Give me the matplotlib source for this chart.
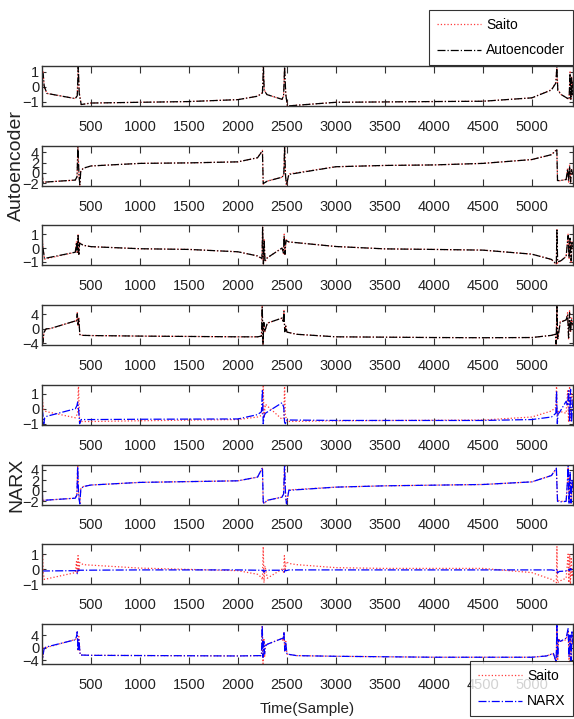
import matplotlib
matplotlib.use('Agg')
import matplotlib.pyplot as plt
from matplotlib.lines import Line2D

plt.rcParams['font.family'] = ['Liberation Sans', 'DejaVu Sans']

# sample positions (knots) and values
x1 = [0, 12, 22, 50, 340, 360, 370, 380, 400, 500, 1000, 1500, 2000, 2200, 2250, 2260, 2268, 2296,
      2450, 2466, 2476, 2488, 2505, 2600, 3000, 4000, 4500, 5000, 5200, 5245, 5255, 5265, 5300,
      5380, 5390, 5398, 5405, 5412, 5420]
saito1 = [0.75, 1.0, 0.0, -0.45, -0.8, -0.6, 1.4, -0.4, -1.2, -1.1, -1.05, -1.0, -0.87, -0.64, -0.4, 1.4,
          -0.2, -0.53, -0.85, -0.6, 1.4, -0.5, -1.3, -1.25, -1.05, -1.0, -0.98, -0.75, -0.2, 0.3, 1.4,
          -0.2, -0.53, -0.85, 1.0, -0.9, 0.7, -0.6, 0.4]
ae1 = [0.7, 0.9, 0.05, -0.45, -0.8, -0.6, 1.35, -0.45, -1.2, -1.1, -1.05, -1.0, -0.87, -0.64, -0.42, 1.35,
       -0.25, -0.53, -0.85, -0.62, 1.35, -0.5, -1.3, -1.25, -1.05, -1.0, -0.98, -0.75, -0.22, 0.25, 1.35,
       -0.25, -0.53, -0.85, 0.9, -0.85, 0.6, -0.55, 0.35]

x2 = [0, 10, 30, 340, 358, 366, 378, 386, 395, 420, 500, 1000, 1500, 2000, 2200, 2250, 2258, 2266, 2300,
      2450, 2468, 2476, 2486, 2495, 2520, 3000, 3500, 4000, 4500, 5000, 5200, 5255, 5262, 5290, 5350,
      5365, 5375, 5385, 5395, 5405, 5420]
saito2 = [0.3, -1.9, -1.8, -1.4, -0.8, 5.1, -0.5, -2.4, 0.3, 0.9, 1.35, 1.85, 1.95, 2.15, 2.95, 4.4, -2.2,
          -2.0, -1.6, -0.85, -0.3, 5.1, -0.5, -2.4, -0.2, 1.2, 1.45, 1.55, 1.85, 2.6, 3.55, 4.6, -1.6,
          -1.5, -1.3, 1.0, -1.8, 1.5, -2.0, 0.8, -0.5]
ae2 = [0.2, -1.85, -1.8, -1.4, -0.7, 5.0, -0.6, -2.3, 0.2, 0.9, 1.35, 1.85, 1.95, 2.15, 2.95, 4.3, -2.1,
       -2.0, -1.6, -0.85, -0.4, 5.0, -0.6, -2.3, -0.3, 1.2, 1.45, 1.55, 1.85, 2.6, 3.55, 4.5, -1.5,
       -1.5, -1.3, 0.8, -1.6, 1.3, -1.8, 0.6, -0.4]

x3 = [0, 8, 25, 340, 352, 360, 368, 376, 384, 420, 500, 1000, 1500, 2000, 2200, 2245, 2252, 2260, 2268,
      2276, 2300, 2450, 2465, 2472, 2480, 2490, 2520, 3000, 3500, 4000, 4500, 5000, 5200, 5250, 5256,
      5263, 5300, 5350, 5370, 5380, 5390, 5400, 5410, 5420]
saito3 = [1.1, 0.2, -0.8, -0.3, 0.5, -0.4, 0.95, -0.5, 0.4, 0.2, 0.1, -0.05, -0.1, -0.27, -0.57, -0.8,
          1.55, -1.2, 0.6, -1.0, -0.7, 0.0, -0.4, 1.0, -0.5, 0.6, 0.44, 0.11, -0.06, -0.1, -0.15, -0.44,
          -0.82, -1.2, 1.4, -1.1, -0.9, -0.6, 1.0, -0.8, 0.8, -1.0, 0.5, 0.0]
ae3 = [1.0, 0.1, -0.75, -0.3, 0.4, -0.35, 0.9, -0.45, 0.35, 0.2, 0.1, -0.05, -0.1, -0.27, -0.57, -0.75,
       1.5, -1.15, 0.5, -0.9, -0.7, 0.0, -0.35, 0.9, -0.45, 0.55, 0.44, 0.11, -0.06, -0.1, -0.15, -0.44,
       -0.82, -1.15, 1.3, -1.0, -0.9, -0.6, 0.9, -0.7, 0.7, -0.9, 0.4, 0.0]

x4 = [0, 8, 20, 40, 85, 340, 352, 360, 368, 376, 386, 420, 500, 1000, 2000, 2200, 2240, 2248, 2256, 2264,
      2272, 2300, 2450, 2462, 2470, 2478, 2488, 2500, 2600, 3000, 3500, 4000, 4500, 5000, 5200, 5240,
      5248, 5256, 5264, 5290, 5350, 5365, 5375, 5385, 5395, 5405, 5420]
saito4 = [1.0, -4.0, -1.0, 0.0, 0.1, 2.2, 2.0, 4.5, 1.0, 3.0, -1.7, -1.8, -1.85, -2.0, -2.2, -2.2, -2.0,
          6.5, -4.5, 2.0, -1.0, 1.6, 3.0, 2.0, 5.1, -1.0, 1.0, -0.9, -1.5, -2.2, -2.3, -2.4, -2.45, -2.4,
          -1.8, -1.5, -4.5, 6.5, -3.0, 2.0, 2.5, 4.5, -3.0, 5.0, -1.0, 3.0, 1.0]
ae4 = [0.8, -3.8, -1.0, 0.0, 0.1, 2.2, 2.0, 4.2, 1.2, 2.8, -1.6, -1.8, -1.85, -2.0, -2.2, -2.2, -2.0,
       6.2, -4.3, 1.8, -0.8, 1.6, 3.0, 2.1, 4.8, -0.8, 0.8, -0.9, -1.5, -2.2, -2.3, -2.4, -2.45, -2.4,
       -1.8, -1.5, -4.2, 6.2, -2.8, 1.8, 2.5, 4.0, -2.5, 4.5, -0.8, 2.5, 1.0]

x5 = [0, 8, 18, 28, 50, 340, 356, 364, 372, 384, 400, 500, 1000, 2000, 2200, 2240, 2250, 2258, 2266,
      2280, 2450, 2468, 2476, 2484, 2500, 3000, 4500, 5000, 5200, 5245, 5252, 5260, 5268, 5280, 5350,
      5365, 5375, 5385, 5395, 5405, 5420]
saito5 = [1.1, 0.4, -0.1, -0.15, -0.2, -0.6, -0.4, -0.2, 1.6, -0.85, -0.85, -0.85, -0.8, -0.72, -0.55,
          -0.45, -0.3, 1.6, -0.6, 0.3, -0.7, -0.6, 1.6, -0.4, -0.85, -0.8, -0.75, -0.55, -0.15, 0.1,
          1.6, -0.5, -0.2, -0.16, -0.3, 1.2, -0.9, 1.5, -0.8, 1.0, 0.5]
narx5 = [0.0, -0.3, -1.0, -0.6, -0.5, 0.0, 0.2, 0.45, 0.1, -1.0, -0.72, -0.72, -0.7, -0.68, -0.39,
         -0.2, 1.3, -1.0, -0.5, -0.3, 0.4, 0.1, -0.9, -1.0, -0.75, -0.78, -0.78, -0.72, -0.55, -0.3,
         1.2, -1.0, -0.3, -0.27, 0.5, 0.2, 1.2, -0.8, 1.3, -0.9, 0.6]

x6 = [0, 8, 22, 340, 356, 364, 374, 386, 396, 420, 500, 1000, 2000, 2200, 2250, 2258, 2266, 2300,
      2450, 2466, 2476, 2486, 2496, 2520, 3000, 3500, 4500, 5000, 5200, 5250, 5262, 5290, 5350,
      5362, 5370, 5380, 5390, 5400, 5410, 5420]
saito6 = [0.5, -1.9, -1.8, -1.4, -0.5, 4.9, -0.5, -2.5, 0.4, 0.8, 1.1, 1.6, 1.9, 2.6, 4.3, -2.2, -2.4,
          -1.8, -1.2, -0.3, 5.0, -0.5, -2.6, 0.17, 0.7, 0.95, 1.2, 1.7, 2.9, 4.2, -1.7, -2.0, -2.0,
          1.0, 4.5, -2.2, 3.0, -2.5, 1.5, 0.5]
narx6 = [0.2, -1.8, -1.8, -1.4, -0.8, 4.6, -1.0, -2.5, 0.3, 0.8, 1.1, 1.6, 1.9, 2.6, 4.4, -2.0, -2.4,
         -1.8, -1.2, -0.6, 4.8, -1.0, -2.5, 0.1, 0.7, 0.95, 1.2, 1.7, 2.9, 4.3, -2.0, -2.1, -2.0,
         1.5, 4.6, -2.5, 3.5, -2.3, 2.0, 0.3]

x7 = [0, 6, 14, 24, 340, 352, 360, 368, 376, 386, 420, 1000, 2000, 2200, 2240, 2250, 2258, 2266, 2276,
      2300, 2450, 2466, 2474, 2482, 2492, 2520, 2600, 3000, 3500, 4500, 5000, 5200, 5250, 5256, 5262,
      5280, 5350, 5370, 5378, 5386, 5394, 5402, 5410, 5420]
saito7 = [0.0, 1.0, -0.3, -0.68, -0.23, 0.5, -0.3, 0.9, -0.1, 0.45, 0.3, 0.07, -0.1, -0.34, -0.55, -0.7,
          1.5, -0.9, 0.2, -0.6, 0.0, -0.2, 0.9, -0.1, 0.5, 0.38, 0.3, 0.1, 0.05, 0.05, -0.23, -0.68,
          -0.9, 1.5, -0.9, -0.8, -0.6, 1.0, -0.9, 1.0, -1.0, 0.8, -0.5, 0.0]
narx7 = [-0.1, -0.1, -0.12, -0.12, -0.1, -0.1, -0.3, -0.05, -0.1, -0.07, -0.07, -0.05, -0.05, -0.07,
         -0.07, -0.1, -0.05, -0.2, -0.1, -0.07, -0.07, -0.07, -0.2, -0.05, -0.1, -0.05, -0.05, -0.05,
         -0.05, -0.05, -0.05, -0.05, -0.1, 0.0, -0.25, -0.15, -0.12, -0.1, 0.0, -0.1, 0.05, -0.05, 0.0, 0.0]

x8 = [0, 8, 20, 40, 340, 352, 360, 368, 376, 390, 500, 2000, 2200, 2240, 2248, 2256, 2264, 2272, 2280,
      2300, 2450, 2462, 2470, 2478, 2488, 2500, 2600, 3000, 4000, 5000, 5150, 5220, 5248, 5256, 5264,
      5272, 5290, 5350, 5370, 5380, 5390, 5400, 5410, 5420]
saito8 = [0.5, -3.0, 0.0, 0.0, 2.6, 3.0, 5.3, -1.0, 3.5, -2.3, -2.4, -2.6, -2.5, -2.5, 7.0, -5.0, 3.0,
          -3.0, 1.0, 1.1, 2.9, 2.0, 5.0, -1.0, 2.0, -2.0, -2.5, -2.7, -3.0, -3.0, -2.6, -1.8, -5.0, 7.0,
          -4.0, 3.0, 2.0, 2.5, 5.5, -4.5, 3.0, -3.5, 4.0, 2.0]
narx8 = [0.2, -3.0, -0.5, 0.2, 2.5, 3.5, 5.0, -1.0, 2.5, -2.3, -2.4, -2.6, -2.5, -2.5, 6.9, -3.0, 2.0,
         -2.0, 0.5, 1.1, 2.9, 3.0, 5.0, -1.0, 1.5, -2.0, -2.5, -2.7, -3.0, -3.0, -2.6, -1.8, -4.5, 7.0,
         -3.0, 2.5, 2.0, 3.0, 6.0, -3.0, 4.0, -4.0, 5.0, 1.0]

xticks = [500, 1000, 1500, 2000, 2500, 3000, 3500, 4000, 4500, 5000]
yticks = [[-1, 0, 1], [-2, 0, 2, 4], [-1, 0, 1], [-4, 0, 4],
          [-1, 0, 1], [-2, 0, 2, 4], [-1, 0, 1], [-4, 0, 4]]
ylims = [(-1.3, 1.4), (-2.5, 5.3), (-1.25, 1.63), (-4.5, 6.6),
         (-1.07, 1.6), (-2.6, 5.0), (-1.0, 1.66), (-5.1, 7.5)]

panels = [(x1, saito1, ae1), (x2, saito2, ae2), (x3, saito3, ae3), (x4, saito4, ae4),
          (x5, saito5, narx5), (x6, saito6, narx6), (x7, saito7, narx7), (x8, saito8, narx8)]

W, H = 574, 719
fig = plt.figure(figsize=(W / 100, H / 100), dpi=100)

red = '#ff3b3b'
axes = []
for i, (x, s, m) in enumerate(panels):
    top = 66 + 79.7 * i
    ax = fig.add_axes([42 / W, 1 - (top + 40) / H, 531 / W, 40 / H])
    mcol = 'black' if i < 4 else '#0000ff'
    ax.plot(x, s, color=red, ls=':', lw=0.9)
    ax.plot(x, m, color=mcol, ls='-.', lw=0.9)
    ax.set_xlim(0, 5420)
    ax.set_ylim(*ylims[i])
    ax.set_xticks(xticks)
    ax.set_yticks(yticks[i])
    ax.tick_params(axis='x', direction='in', top=True, length=5, width=0.8,
                   labelsize=10.5, pad=10, colors='#333333', labelcolor='#222222')
    ax.tick_params(axis='y', direction='in', right=True, length=3, width=0.8,
                   labelsize=10.5, pad=2, colors='#333333', labelcolor='#222222')
    for sp in ax.spines.values():
        sp.set_linewidth(1.0)
        sp.set_color('#333333')
    axes.append(ax)

axes[1].set_ylabel('Autoencoder', fontsize=14, color='#222222')
axes[5].set_ylabel('NARX', fontsize=14, color='#222222')
axes[1].yaxis.set_label_coords(-0.032, 0.5)
axes[5].yaxis.set_label_coords(-0.032, 0.5)
axes[7].set_xlabel('Time(Sample)', fontsize=11, color='#222222', labelpad=7)

h1 = [Line2D([], [], color=red, ls=':', lw=0.9), Line2D([], [], color='black', ls='-.', lw=0.9)]
leg1 = fig.legend(h1, ['Saito', 'Autoencoder'], loc='upper right',
                  bbox_to_anchor=(573 / W, 1 - 10 / H), fontsize=10, frameon=True,
                  fancybox=False, edgecolor='black', handlelength=3.2, borderaxespad=0,
                  labelspacing=0.85, borderpad=0.55, handletextpad=0.35)
leg1.get_frame().set_linewidth(0.8)

h2 = [Line2D([], [], color=red, ls=':', lw=0.9), Line2D([], [], color='#0000ff', ls='-.', lw=0.9)]
leg2 = fig.legend(h2, ['Saito', 'NARX'], loc='upper right',
                  bbox_to_anchor=(573 / W, 1 - 661 / H), fontsize=10, frameon=True,
                  fancybox=False, edgecolor='black', handlelength=3.2, borderaxespad=0,
                  labelspacing=0.85, borderpad=0.55, handletextpad=0.35)
leg2.get_frame().set_linewidth(0.8)

fig.savefig('out.png', dpi=100, facecolor='white')
